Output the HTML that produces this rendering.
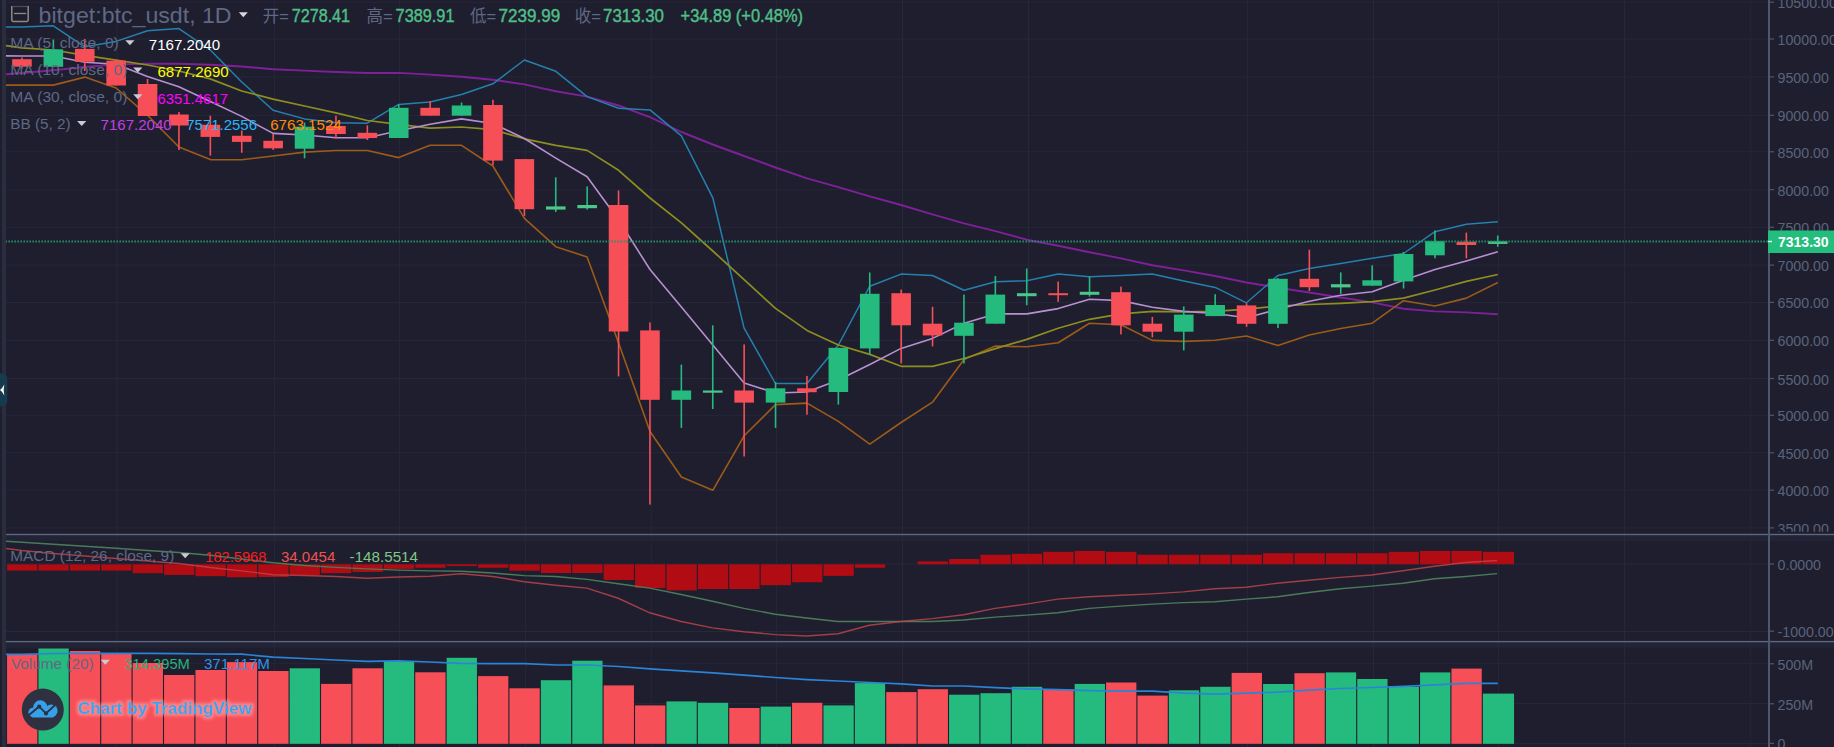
<!DOCTYPE html>
<html><head><meta charset="utf-8"><title>bitget:btc_usdt chart</title>
<style>
html,body{margin:0;padding:0;background:#1e1e2f;overflow:hidden;width:1834px;height:747px}
svg{display:block}
</style></head>
<body>
<svg width="1834" height="747" viewBox="0 0 1834 747"><rect x="0" y="0" width="1834" height="747" fill="#1e1e2f"/>
<rect x="2" y="0" width="4" height="747" fill="#292d3e"/>
<rect x="6" y="535.2" width="1828" height="5.8" fill="#222335"/>
<rect x="6" y="642.3" width="1828" height="5.4" fill="#222335"/>
<g fill="#26273a"><rect x="6" y="1.7" width="1762" height="1"/><rect x="6" y="38.5" width="1762" height="1"/><rect x="6" y="76.4" width="1762" height="1"/><rect x="6" y="114.8" width="1762" height="1"/><rect x="6" y="151.3" width="1762" height="1"/><rect x="6" y="189.2" width="1762" height="1"/><rect x="6" y="226.8" width="1762" height="1"/><rect x="6" y="264.6" width="1762" height="1"/><rect x="6" y="301.9" width="1762" height="1"/><rect x="6" y="339.8" width="1762" height="1"/><rect x="6" y="378.0" width="1762" height="1"/><rect x="6" y="414.8" width="1762" height="1"/><rect x="6" y="452.3" width="1762" height="1"/><rect x="6" y="489.7" width="1762" height="1"/><rect x="6" y="527.4" width="1762" height="1"/><rect x="6" y="563.5" width="1762" height="1"/><rect x="6" y="631.0" width="1762" height="1"/><rect x="6" y="662.7" width="1762" height="1"/><rect x="6" y="702.9" width="1762" height="1"/><rect x="6" y="742.9" width="1762" height="1"/><rect x="116.5" y="0" width="1" height="747"/><rect x="273.9" y="0" width="1" height="747"/><rect x="399.1" y="0" width="1" height="747"/><rect x="524.9" y="0" width="1" height="747"/><rect x="650.8" y="0" width="1" height="747"/><rect x="775.9" y="0" width="1" height="747"/><rect x="902.0" y="0" width="1" height="747"/><rect x="1028.0" y="0" width="1" height="747"/><rect x="1246.9" y="0" width="1" height="747"/><rect x="1373.0" y="0" width="1" height="747"/><rect x="1497.9" y="0" width="1" height="747"/><rect x="1624.0" y="0" width="1" height="747"/><rect x="1750.3" y="0" width="1" height="747"/></g>
<rect x="7.05" y="654.5" width="30.30" height="89.3" fill="#f74f57"/><rect x="38.45" y="648.5" width="30.30" height="95.3" fill="#25bb7e"/><rect x="69.85" y="651.0" width="30.30" height="92.8" fill="#f74f57"/><rect x="101.25" y="653.5" width="30.30" height="90.3" fill="#f74f57"/><rect x="132.65" y="663.0" width="30.30" height="80.8" fill="#f74f57"/><rect x="164.05" y="675.0" width="30.30" height="68.8" fill="#f74f57"/><rect x="195.45" y="670.0" width="30.30" height="73.8" fill="#f74f57"/><rect x="226.85" y="662.1" width="30.30" height="81.7" fill="#f74f57"/><rect x="258.25" y="671.0" width="30.30" height="72.8" fill="#f74f57"/><rect x="289.65" y="668.3" width="30.30" height="75.5" fill="#25bb7e"/><rect x="321.05" y="683.9" width="30.30" height="59.9" fill="#f74f57"/><rect x="352.45" y="668.3" width="30.30" height="75.5" fill="#f74f57"/><rect x="383.85" y="661.3" width="30.30" height="82.5" fill="#25bb7e"/><rect x="415.25" y="672.3" width="30.30" height="71.5" fill="#f74f57"/><rect x="446.65" y="657.8" width="30.30" height="86.0" fill="#25bb7e"/><rect x="478.05" y="676.1" width="30.30" height="67.7" fill="#f74f57"/><rect x="509.45" y="688.3" width="30.30" height="55.5" fill="#f74f57"/><rect x="540.85" y="680.2" width="30.30" height="63.6" fill="#25bb7e"/><rect x="572.25" y="660.7" width="30.30" height="83.1" fill="#25bb7e"/><rect x="603.65" y="685.4" width="30.30" height="58.4" fill="#f74f57"/><rect x="635.05" y="705.4" width="30.30" height="38.4" fill="#f74f57"/><rect x="666.45" y="701.4" width="30.30" height="42.4" fill="#25bb7e"/><rect x="697.85" y="702.8" width="30.30" height="41.0" fill="#25bb7e"/><rect x="729.25" y="708.0" width="30.30" height="35.8" fill="#f74f57"/><rect x="760.65" y="706.6" width="30.30" height="37.2" fill="#25bb7e"/><rect x="792.05" y="702.8" width="30.30" height="41.0" fill="#f74f57"/><rect x="823.45" y="705.4" width="30.30" height="38.4" fill="#25bb7e"/><rect x="854.85" y="683.1" width="30.30" height="60.7" fill="#25bb7e"/><rect x="886.25" y="692.1" width="30.30" height="51.7" fill="#f74f57"/><rect x="917.65" y="689.2" width="30.30" height="54.6" fill="#f74f57"/><rect x="949.05" y="694.7" width="30.30" height="49.1" fill="#25bb7e"/><rect x="980.45" y="693.2" width="30.30" height="50.6" fill="#25bb7e"/><rect x="1011.85" y="686.8" width="30.30" height="57.0" fill="#25bb7e"/><rect x="1043.25" y="689.2" width="30.30" height="54.6" fill="#f74f57"/><rect x="1074.65" y="683.9" width="30.30" height="59.9" fill="#25bb7e"/><rect x="1106.05" y="682.5" width="30.30" height="61.3" fill="#f74f57"/><rect x="1137.45" y="695.6" width="30.30" height="48.2" fill="#f74f57"/><rect x="1168.85" y="690.3" width="30.30" height="53.5" fill="#25bb7e"/><rect x="1200.25" y="686.8" width="30.30" height="57.0" fill="#25bb7e"/><rect x="1231.65" y="672.9" width="30.30" height="70.9" fill="#f74f57"/><rect x="1263.05" y="684.0" width="30.30" height="59.8" fill="#25bb7e"/><rect x="1294.45" y="673.2" width="30.30" height="70.6" fill="#f74f57"/><rect x="1325.85" y="672.4" width="30.30" height="71.4" fill="#25bb7e"/><rect x="1357.25" y="679.0" width="30.30" height="64.8" fill="#25bb7e"/><rect x="1388.65" y="686.9" width="30.30" height="56.9" fill="#25bb7e"/><rect x="1420.05" y="672.4" width="30.30" height="71.4" fill="#25bb7e"/><rect x="1451.45" y="668.6" width="30.30" height="75.2" fill="#f74f57"/><rect x="1482.85" y="693.6" width="31.20" height="50.2" fill="#25bb7e"/>
<polyline points="6.0,654.3 21.9,654.3 53.3,653.5 84.8,653.4 116.1,653.4 147.5,653.4 178.9,653.6 210.3,654.0 241.7,654.1 273.1,657.2 304.5,658.5 335.9,660.0 367.3,661.3 398.7,660.8 430.1,662.0 461.5,663.3 492.9,663.6 524.4,663.6 555.8,665.0 587.1,665.0 618.6,666.5 650.0,668.8 681.4,670.9 712.8,672.9 744.1,675.2 775.5,677.5 807.0,679.6 838.4,681.0 869.8,682.5 901.1,683.9 932.5,686.0 964.0,686.0 995.4,687.7 1026.8,688.9 1058.2,689.7 1089.5,690.6 1121.0,691.2 1152.3,691.2 1183.8,693.2 1215.2,694.1 1246.5,693.2 1278.0,692.1 1309.3,690.2 1340.8,688.5 1372.2,687.5 1403.5,686.3 1435.0,684.9 1466.3,683.4 1497.8,683.4" fill="none" stroke="#2a84d8" stroke-width="1.7" stroke-linejoin="round"/>
<g fill="#b10b13"><rect x="7.05" y="564.3" width="30.30" height="6.3"/><rect x="38.45" y="564.3" width="30.30" height="6.3"/><rect x="69.85" y="564.3" width="30.30" height="6.3"/><rect x="101.25" y="564.3" width="30.30" height="6.3"/><rect x="132.65" y="564.3" width="30.30" height="8.9"/><rect x="164.05" y="564.3" width="30.30" height="10.6"/><rect x="195.45" y="564.3" width="30.30" height="11.9"/><rect x="226.85" y="564.3" width="30.30" height="13.0"/><rect x="258.25" y="564.3" width="30.30" height="12.7"/><rect x="289.65" y="564.3" width="30.30" height="10.7"/><rect x="321.05" y="564.3" width="30.30" height="8.9"/><rect x="352.45" y="564.3" width="30.30" height="7.7"/><rect x="383.85" y="564.3" width="30.30" height="4.6"/><rect x="415.25" y="564.3" width="30.30" height="3.5"/><rect x="446.65" y="564.3" width="30.30" height="1.7"/><rect x="478.05" y="564.3" width="30.30" height="3.5"/><rect x="509.45" y="564.3" width="30.30" height="6.4"/><rect x="540.85" y="564.3" width="30.30" height="8.7"/><rect x="572.25" y="564.3" width="30.30" height="8.7"/><rect x="603.65" y="564.3" width="30.30" height="15.7"/><rect x="635.05" y="564.3" width="30.30" height="23.8"/><rect x="666.45" y="564.3" width="30.30" height="26.1"/><rect x="697.85" y="564.3" width="30.30" height="24.7"/><rect x="729.25" y="564.3" width="30.30" height="24.7"/><rect x="760.65" y="564.3" width="30.30" height="20.9"/><rect x="792.05" y="564.3" width="30.30" height="18.0"/><rect x="823.45" y="564.3" width="30.30" height="11.6"/><rect x="854.85" y="564.3" width="30.30" height="3.5"/><rect x="917.65" y="561.4" width="30.30" height="2.9"/><rect x="949.05" y="559.0" width="30.30" height="5.3"/><rect x="980.45" y="554.7" width="30.30" height="9.6"/><rect x="1011.85" y="553.8" width="30.30" height="10.5"/><rect x="1043.25" y="551.8" width="30.30" height="12.5"/><rect x="1074.65" y="550.9" width="30.30" height="13.4"/><rect x="1106.05" y="551.8" width="30.30" height="12.5"/><rect x="1137.45" y="554.7" width="30.30" height="9.6"/><rect x="1168.85" y="554.7" width="30.30" height="9.6"/><rect x="1200.25" y="554.7" width="30.30" height="9.6"/><rect x="1231.65" y="554.7" width="30.30" height="9.6"/><rect x="1263.05" y="553.2" width="30.30" height="11.1"/><rect x="1294.45" y="553.2" width="30.30" height="11.1"/><rect x="1325.85" y="553.2" width="30.30" height="11.1"/><rect x="1357.25" y="553.2" width="30.30" height="11.1"/><rect x="1388.65" y="551.8" width="30.30" height="12.5"/><rect x="1420.05" y="550.9" width="30.30" height="13.4"/><rect x="1451.45" y="550.9" width="30.30" height="13.4"/><rect x="1482.85" y="551.8" width="31.20" height="12.5"/></g>
<polyline points="6.0,541.2 22.0,542.2 53.4,544.3 84.8,546.3 116.2,548.3 147.5,550.5 178.9,552.5 210.3,555.3 241.7,559.0 273.1,562.8 304.5,565.5 335.9,567.4 367.2,568.9 398.6,570.1 430.0,570.9 461.4,571.3 492.8,573.0 524.2,575.6 555.5,576.5 586.9,579.4 618.3,583.7 649.7,588.1 681.1,594.5 712.5,601.2 743.9,608.4 775.2,614.2 806.6,618.0 838.0,621.5 869.4,621.5 900.8,621.5 932.2,621.5 963.6,620.0 995.0,617.1 1026.3,615.1 1057.7,612.8 1089.1,608.4 1120.5,606.1 1151.9,604.1 1183.3,602.6 1214.7,601.7 1246.0,599.1 1277.4,596.8 1308.8,592.5 1340.2,588.7 1371.6,586.1 1403.0,583.2 1434.4,578.8 1465.7,576.5 1497.1,573.6" fill="none" stroke="#4a7b59" stroke-width="1.45"/>
<polyline points="6.0,548.5 22.0,550.5 53.4,553.5 84.8,556.0 116.2,558.5 147.5,561.0 178.9,563.5 210.3,567.5 241.7,570.9 273.1,574.7 304.5,575.5 335.9,576.5 367.2,578.3 398.6,577.0 430.0,576.2 461.4,573.8 492.8,576.5 524.2,581.7 555.5,585.2 586.9,588.1 618.3,598.3 649.7,612.8 681.1,621.5 712.5,627.9 743.9,631.7 775.2,634.6 806.6,636.0 838.0,633.7 869.4,625.3 900.8,621.5 932.2,618.6 963.6,614.8 995.0,608.4 1026.3,604.1 1057.7,599.1 1089.1,596.8 1120.5,595.3 1151.9,593.9 1183.3,591.9 1214.7,588.7 1246.0,587.2 1277.4,583.2 1308.8,580.3 1340.2,577.4 1371.6,575.0 1403.0,570.7 1434.4,566.3 1465.7,562.5 1497.1,560.5" fill="none" stroke="#c0454a" stroke-width="1.45" stroke-opacity="0.82"/>
<polyline points="6.0,74.2 21.9,73.0 53.3,70.2 84.8,67.0 116.1,64.4 147.5,63.7 178.9,63.7 210.3,64.8 241.7,66.5 273.1,69.2 304.5,70.6 335.9,72.0 367.3,73.0 398.7,72.9 430.1,74.6 461.5,76.8 492.9,79.8 524.4,84.4 555.8,91.3 587.1,96.6 618.6,105.5 650.0,117.1 681.4,132.0 712.8,144.5 744.1,156.0 775.5,167.5 807.0,178.4 838.4,187.2 869.8,196.3 901.1,205.0 932.5,214.4 964.0,223.4 995.4,231.2 1026.8,239.7 1058.2,245.7 1089.5,252.2 1121.0,258.4 1152.3,265.3 1183.8,270.4 1215.2,276.0 1246.5,282.5 1278.0,287.8 1309.3,292.5 1340.8,297.5 1372.2,302.4 1403.5,308.8 1435.0,311.4 1466.3,312.4 1497.8,314.2" fill="none" stroke="#7f2099" stroke-width="1.9" stroke-linejoin="round"/>
<polyline points="6.0,85.1 21.9,85.1 53.3,85.1 84.8,77.1 116.1,88.0 147.5,115.3 178.9,147.0 210.3,159.6 241.7,159.7 273.1,156.0 304.5,152.1 335.9,150.5 367.3,150.5 398.7,157.6 430.1,145.3 461.5,145.3 492.9,166.0 524.4,218.3 555.8,246.7 587.1,256.9 618.6,343.0 650.0,431.5 681.4,477.0 712.8,490.3 744.1,435.8 775.5,404.6 807.0,403.1 838.4,421.4 869.8,444.2 901.1,422.5 932.5,402.2 964.0,359.6 995.4,346.0 1026.8,346.8 1058.2,342.8 1089.5,323.3 1121.0,324.7 1152.3,340.4 1183.8,341.4 1215.2,340.3 1246.5,336.0 1278.0,345.6 1309.3,335.0 1340.8,328.5 1372.2,323.2 1403.5,300.7 1435.0,306.0 1466.3,298.1 1497.8,282.5" fill="none" stroke="#9e5b18" stroke-width="1.6" stroke-linejoin="round"/>
<polyline points="6.0,27.1 21.9,27.1 53.3,25.8 84.8,46.8 116.1,41.4 147.5,30.7 178.9,28.6 210.3,50.0 241.7,82.0 273.1,110.2 304.5,118.9 335.9,122.7 367.3,123.2 398.7,104.4 430.1,102.1 461.5,94.5 492.9,83.8 524.4,60.0 555.8,71.3 587.1,96.6 618.6,108.2 650.0,109.9 681.4,135.9 712.8,197.8 744.1,328.1 775.5,383.5 807.0,383.5 838.4,345.0 869.8,286.2 901.1,274.1 932.5,275.5 964.0,290.2 995.4,281.7 1026.8,280.7 1058.2,274.1 1089.5,276.7 1121.0,275.5 1152.3,274.1 1183.8,281.0 1215.2,287.4 1246.5,302.8 1278.0,275.4 1309.3,268.5 1340.8,263.6 1372.2,258.3 1403.5,253.5 1435.0,231.7 1466.3,224.2 1497.8,221.8" fill="none" stroke="#2481ae" stroke-width="1.5" stroke-linejoin="round"/>
<polyline points="6.0,45.7 21.9,47.8 53.3,50.0 84.8,55.3 116.1,60.2 147.5,65.0 178.9,71.0 210.3,78.9 241.7,91.0 273.1,99.1 304.5,106.0 335.9,112.8 367.3,120.5 398.7,124.3 430.1,128.1 461.5,127.0 492.9,129.6 524.4,138.8 555.8,145.3 587.1,150.4 618.6,170.3 650.0,198.0 681.4,222.8 712.8,251.0 744.1,279.7 775.5,308.4 807.0,330.4 838.4,345.0 869.8,354.4 901.1,366.3 932.5,366.3 964.0,358.5 995.4,348.6 1026.8,339.4 1058.2,328.3 1089.5,319.3 1121.0,313.9 1152.3,311.3 1183.8,311.8 1215.2,311.4 1246.5,309.2 1278.0,306.0 1309.3,304.5 1340.8,303.4 1372.2,301.7 1403.5,298.1 1435.0,290.0 1466.3,281.4 1497.8,274.5" fill="none" stroke="#8e8e20" stroke-width="1.7" stroke-linejoin="round"/>
<polyline points="6.0,55.9 21.9,56.0 53.3,56.0 84.8,62.2 116.1,64.2 147.5,76.4 178.9,86.8 210.3,101.4 241.7,116.4 273.1,133.4 304.5,135.0 335.9,137.7 367.3,137.7 398.7,130.8 430.1,124.3 461.5,118.9 492.9,123.5 524.4,138.5 555.8,158.1 587.1,176.7 618.6,220.0 650.0,269.5 681.4,307.0 712.8,345.0 744.1,382.9 775.5,393.0 807.0,392.0 838.4,380.0 869.8,364.5 901.1,348.4 932.5,338.4 964.0,323.3 995.4,313.9 1026.8,313.9 1058.2,308.6 1089.5,299.2 1121.0,300.6 1152.3,307.2 1183.8,311.4 1215.2,313.5 1246.5,317.8 1278.0,309.2 1309.3,301.3 1340.8,295.3 1372.2,291.7 1403.5,280.3 1435.0,269.6 1466.3,261.0 1497.8,251.8" fill="none" stroke="#b890d0" stroke-width="1.6" stroke-linejoin="round"/>
<rect x="21.15" y="57.5" width="1.6" height="11.0" fill="#f74f57"/><rect x="12.15" y="59.2" width="19.6" height="7.5" fill="#f74f57"/><rect x="52.55" y="39.5" width="1.6" height="27.3" fill="#25bb7e"/><rect x="43.55" y="49.3" width="19.6" height="17.5" fill="#25bb7e"/><rect x="83.95" y="39.0" width="1.6" height="32.0" fill="#f74f57"/><rect x="74.95" y="48.9" width="19.6" height="12.9" fill="#f74f57"/><rect x="115.35" y="59.5" width="1.6" height="26.0" fill="#f74f57"/><rect x="106.35" y="60.7" width="19.6" height="24.8" fill="#f74f57"/><rect x="146.75" y="79.0" width="1.6" height="37.0" fill="#f74f57"/><rect x="137.75" y="84.0" width="19.6" height="32.0" fill="#f74f57"/><rect x="178.15" y="112.0" width="1.6" height="38.0" fill="#f74f57"/><rect x="169.15" y="114.5" width="19.6" height="11.0" fill="#f74f57"/><rect x="209.55" y="115.7" width="1.6" height="39.9" fill="#f74f57"/><rect x="200.55" y="124.8" width="19.6" height="12.1" fill="#f74f57"/><rect x="240.95" y="130.5" width="1.6" height="22.3" fill="#f74f57"/><rect x="231.95" y="135.8" width="19.6" height="6.1" fill="#f74f57"/><rect x="272.35" y="134.0" width="1.6" height="15.9" fill="#f74f57"/><rect x="263.35" y="140.8" width="19.6" height="7.5" fill="#f74f57"/><rect x="303.75" y="122.6" width="1.6" height="35.7" fill="#25bb7e"/><rect x="294.75" y="126.7" width="19.6" height="22.0" fill="#25bb7e"/><rect x="335.15" y="115.7" width="1.6" height="22.8" fill="#f74f57"/><rect x="326.15" y="126.0" width="19.6" height="8.0" fill="#f74f57"/><rect x="366.55" y="125.3" width="1.6" height="14.7" fill="#f74f57"/><rect x="357.55" y="132.8" width="19.6" height="5.2" fill="#f74f57"/><rect x="397.95" y="104.4" width="1.6" height="33.6" fill="#25bb7e"/><rect x="388.95" y="107.8" width="19.6" height="30.2" fill="#25bb7e"/><rect x="429.35" y="101.0" width="1.6" height="14.7" fill="#f74f57"/><rect x="420.35" y="107.8" width="19.6" height="7.9" fill="#f74f57"/><rect x="460.75" y="102.5" width="1.6" height="13.2" fill="#25bb7e"/><rect x="451.75" y="105.5" width="19.6" height="10.2" fill="#25bb7e"/><rect x="492.15" y="99.8" width="1.6" height="65.2" fill="#f74f57"/><rect x="483.15" y="105.0" width="19.6" height="55.6" fill="#f74f57"/><rect x="523.55" y="159.0" width="1.6" height="57.0" fill="#f74f57"/><rect x="514.55" y="159.1" width="19.6" height="50.1" fill="#f74f57"/><rect x="554.95" y="177.3" width="1.6" height="34.7" fill="#25bb7e"/><rect x="545.95" y="206.4" width="19.6" height="3.2" fill="#4cc78a"/><rect x="586.35" y="186.4" width="1.6" height="23.2" fill="#25bb7e"/><rect x="577.35" y="205.0" width="19.6" height="3.2" fill="#4cc78a"/><rect x="617.75" y="190.5" width="1.6" height="185.9" fill="#f74f57"/><rect x="608.75" y="205.0" width="19.6" height="126.5" fill="#f74f57"/><rect x="649.15" y="322.5" width="1.6" height="182.1" fill="#f74f57"/><rect x="640.15" y="330.4" width="19.6" height="69.4" fill="#f74f57"/><rect x="680.55" y="364.6" width="1.6" height="63.3" fill="#25bb7e"/><rect x="671.55" y="390.5" width="19.6" height="9.3" fill="#25bb7e"/><rect x="711.95" y="325.3" width="1.6" height="83.7" fill="#25bb7e"/><rect x="702.95" y="390.5" width="19.6" height="2.2" fill="#4cc78a"/><rect x="743.35" y="344.4" width="1.6" height="112.1" fill="#f74f57"/><rect x="734.35" y="390.5" width="19.6" height="12.1" fill="#f74f57"/><rect x="774.75" y="382.0" width="1.6" height="45.9" fill="#25bb7e"/><rect x="765.75" y="388.3" width="19.6" height="14.3" fill="#25bb7e"/><rect x="806.15" y="375.9" width="1.6" height="38.8" fill="#f74f57"/><rect x="797.15" y="388.3" width="19.6" height="3.9" fill="#f74f57"/><rect x="837.55" y="347.8" width="1.6" height="56.8" fill="#25bb7e"/><rect x="828.55" y="347.8" width="19.6" height="44.2" fill="#25bb7e"/><rect x="868.95" y="272.5" width="1.6" height="81.9" fill="#25bb7e"/><rect x="859.95" y="293.8" width="19.6" height="54.6" fill="#25bb7e"/><rect x="900.35" y="289.6" width="1.6" height="73.9" fill="#f74f57"/><rect x="891.35" y="293.2" width="19.6" height="32.1" fill="#f74f57"/><rect x="931.75" y="306.8" width="1.6" height="39.6" fill="#f74f57"/><rect x="922.75" y="323.7" width="19.6" height="11.7" fill="#f74f57"/><rect x="963.15" y="294.6" width="1.6" height="68.9" fill="#25bb7e"/><rect x="954.15" y="322.7" width="19.6" height="13.1" fill="#25bb7e"/><rect x="994.55" y="276.1" width="1.6" height="47.6" fill="#25bb7e"/><rect x="985.55" y="294.6" width="19.6" height="29.1" fill="#25bb7e"/><rect x="1025.95" y="268.5" width="1.6" height="36.7" fill="#25bb7e"/><rect x="1016.95" y="293.2" width="19.6" height="3.0" fill="#4cc78a"/><rect x="1057.35" y="281.5" width="1.6" height="20.3" fill="#f74f57"/><rect x="1048.35" y="293.2" width="19.6" height="2.0" fill="#f74f57"/><rect x="1088.75" y="276.5" width="1.6" height="20.1" fill="#25bb7e"/><rect x="1079.75" y="291.8" width="19.6" height="3.0" fill="#4cc78a"/><rect x="1120.15" y="286.6" width="1.6" height="47.8" fill="#f74f57"/><rect x="1111.15" y="292.2" width="19.6" height="33.1" fill="#f74f57"/><rect x="1151.55" y="316.9" width="1.6" height="20.5" fill="#f74f57"/><rect x="1142.55" y="323.7" width="19.6" height="8.0" fill="#f74f57"/><rect x="1182.95" y="306.4" width="1.6" height="44.0" fill="#25bb7e"/><rect x="1173.95" y="314.6" width="19.6" height="17.1" fill="#25bb7e"/><rect x="1214.35" y="294.2" width="1.6" height="21.9" fill="#25bb7e"/><rect x="1205.35" y="305.0" width="19.6" height="11.1" fill="#25bb7e"/><rect x="1245.75" y="303.2" width="1.6" height="23.6" fill="#f74f57"/><rect x="1236.75" y="305.4" width="19.6" height="18.4" fill="#f74f57"/><rect x="1277.15" y="278.0" width="1.6" height="50.1" fill="#25bb7e"/><rect x="1268.15" y="278.8" width="19.6" height="45.0" fill="#25bb7e"/><rect x="1308.55" y="249.7" width="1.6" height="41.3" fill="#f74f57"/><rect x="1299.55" y="278.8" width="19.6" height="8.4" fill="#f74f57"/><rect x="1339.95" y="272.4" width="1.6" height="21.4" fill="#25bb7e"/><rect x="1330.95" y="284.2" width="19.6" height="3.2" fill="#4cc78a"/><rect x="1371.35" y="265.3" width="1.6" height="20.4" fill="#25bb7e"/><rect x="1362.35" y="280.3" width="19.6" height="5.4" fill="#25bb7e"/><rect x="1402.75" y="252.0" width="1.6" height="36.5" fill="#25bb7e"/><rect x="1393.75" y="254.0" width="19.6" height="27.4" fill="#25bb7e"/><rect x="1434.15" y="230.4" width="1.6" height="27.9" fill="#25bb7e"/><rect x="1425.15" y="241.1" width="19.6" height="14.2" fill="#25bb7e"/><rect x="1465.55" y="232.6" width="1.6" height="25.7" fill="#f74f57"/><rect x="1456.55" y="241.8" width="19.6" height="3.2" fill="#f74f57"/><rect x="1496.95" y="235.5" width="1.6" height="11.3" fill="#25bb7e"/><rect x="1487.95" y="241.3" width="19.6" height="2.6" fill="#4cc78a"/>
<line x1="6" y1="241.5" x2="1768" y2="241.5" stroke="#22976b" stroke-width="1.8" stroke-dasharray="1.6 1.4" stroke-dashoffset="0.6" stroke-opacity="0.9"/>
<rect x="1767" y="531.7" width="67" height="2.1" fill="#1e1e2f"/>
<rect x="6" y="533.8" width="1828" height="1.4" fill="#5f6882"/>
<rect x="6" y="640.9" width="1828" height="1.4" fill="#5f6882"/>
<rect x="1768" y="0" width="2" height="747" fill="#4f576c"/>
<defs><clipPath id="pc"><rect x="1770" y="0" width="64" height="531.7"/></clipPath></defs><g clip-path="url(#pc)"><rect x="1770" y="1.6" width="4" height="1.2" fill="#4f576c"/><text x="1777.6" y="8.2" font-family="'Liberation Sans', Arial, sans-serif" font-size="14.2" fill="#5b6379">10500.00</text><rect x="1770" y="38.4" width="4" height="1.2" fill="#4f576c"/><text x="1777.6" y="45.0" font-family="'Liberation Sans', Arial, sans-serif" font-size="14.2" fill="#5b6379">10000.00</text><rect x="1770" y="76.3" width="4" height="1.2" fill="#4f576c"/><text x="1777.6" y="82.9" font-family="'Liberation Sans', Arial, sans-serif" font-size="14.2" fill="#5b6379">9500.00</text><rect x="1770" y="114.7" width="4" height="1.2" fill="#4f576c"/><text x="1777.6" y="121.3" font-family="'Liberation Sans', Arial, sans-serif" font-size="14.2" fill="#5b6379">9000.00</text><rect x="1770" y="151.2" width="4" height="1.2" fill="#4f576c"/><text x="1777.6" y="157.8" font-family="'Liberation Sans', Arial, sans-serif" font-size="14.2" fill="#5b6379">8500.00</text><rect x="1770" y="189.1" width="4" height="1.2" fill="#4f576c"/><text x="1777.6" y="195.7" font-family="'Liberation Sans', Arial, sans-serif" font-size="14.2" fill="#5b6379">8000.00</text><rect x="1770" y="226.7" width="4" height="1.2" fill="#4f576c"/><text x="1777.6" y="233.3" font-family="'Liberation Sans', Arial, sans-serif" font-size="14.2" fill="#5b6379">7500.00</text><rect x="1770" y="264.5" width="4" height="1.2" fill="#4f576c"/><text x="1777.6" y="271.1" font-family="'Liberation Sans', Arial, sans-serif" font-size="14.2" fill="#5b6379">7000.00</text><rect x="1770" y="301.8" width="4" height="1.2" fill="#4f576c"/><text x="1777.6" y="308.4" font-family="'Liberation Sans', Arial, sans-serif" font-size="14.2" fill="#5b6379">6500.00</text><rect x="1770" y="339.7" width="4" height="1.2" fill="#4f576c"/><text x="1777.6" y="346.3" font-family="'Liberation Sans', Arial, sans-serif" font-size="14.2" fill="#5b6379">6000.00</text><rect x="1770" y="377.9" width="4" height="1.2" fill="#4f576c"/><text x="1777.6" y="384.5" font-family="'Liberation Sans', Arial, sans-serif" font-size="14.2" fill="#5b6379">5500.00</text><rect x="1770" y="414.7" width="4" height="1.2" fill="#4f576c"/><text x="1777.6" y="421.3" font-family="'Liberation Sans', Arial, sans-serif" font-size="14.2" fill="#5b6379">5000.00</text><rect x="1770" y="452.2" width="4" height="1.2" fill="#4f576c"/><text x="1777.6" y="458.8" font-family="'Liberation Sans', Arial, sans-serif" font-size="14.2" fill="#5b6379">4500.00</text><rect x="1770" y="489.6" width="4" height="1.2" fill="#4f576c"/><text x="1777.6" y="496.2" font-family="'Liberation Sans', Arial, sans-serif" font-size="14.2" fill="#5b6379">4000.00</text><rect x="1770" y="527.3" width="4" height="1.2" fill="#4f576c"/><text x="1777.6" y="533.9" font-family="'Liberation Sans', Arial, sans-serif" font-size="14.2" fill="#5b6379">3500.00</text></g><rect x="1770" y="563.4" width="4" height="1.2" fill="#4f576c"/><text x="1777.6" y="570.0" font-family="'Liberation Sans', Arial, sans-serif" font-size="14.2" fill="#5b6379">0.0000</text><rect x="1770" y="630.6" width="4" height="1.2" fill="#4f576c"/><text x="1777.6" y="637.2" font-family="'Liberation Sans', Arial, sans-serif" font-size="14.2" fill="#5b6379">-1000.00</text><rect x="1770" y="663.2" width="4" height="1.2" fill="#4f576c"/><text x="1777.6" y="669.8" font-family="'Liberation Sans', Arial, sans-serif" font-size="14.2" fill="#5b6379">500M</text><rect x="1770" y="703.2" width="4" height="1.2" fill="#4f576c"/><text x="1777.6" y="709.8" font-family="'Liberation Sans', Arial, sans-serif" font-size="14.2" fill="#5b6379">250M</text><rect x="1770" y="742.8" width="4" height="1.2" fill="#4f576c"/><text x="1777.6" y="749.4" font-family="'Liberation Sans', Arial, sans-serif" font-size="14.2" fill="#5b6379">0</text>
<rect x="1768" y="230.5" width="66" height="22.5" fill="#23bd7d"/>
<rect x="1768" y="240.8" width="4" height="1.4" fill="#e8fff4"/>
<text x="1778" y="246.8" font-family="'Liberation Sans', Arial, sans-serif" font-size="14" font-weight="bold" fill="#ffffff">7313.30</text>
<text x="38.6" y="22.9" font-family="'Liberation Sans', Arial, sans-serif" font-size="21.5" fill="#5f6884" textLength="193" lengthAdjust="spacingAndGlyphs">bitget:btc_usdt, 1D</text><polygon points="238.8,12.3 247.8,12.3 243.3,17.3" fill="#d5d7dc"/><text x="262.8" y="22" font-family="'Liberation Sans', 'Noto Sans CJK SC', sans-serif" font-size="16.5" fill="#5f6884">开=</text><text x="291.7" y="22" font-family="'Liberation Sans', Arial, sans-serif" font-size="17.5" fill="#4fbf86" stroke="#4fbf86" stroke-width="0.45" textLength="58.4" lengthAdjust="spacingAndGlyphs">7278.41</text><text x="366.5" y="22" font-family="'Liberation Sans', 'Noto Sans CJK SC', sans-serif" font-size="16.5" fill="#5f6884">高=</text><text x="395.6" y="22" font-family="'Liberation Sans', Arial, sans-serif" font-size="17.5" fill="#4fbf86" stroke="#4fbf86" stroke-width="0.45" textLength="58.9" lengthAdjust="spacingAndGlyphs">7389.91</text><text x="470" y="22" font-family="'Liberation Sans', 'Noto Sans CJK SC', sans-serif" font-size="16.5" fill="#5f6884">低=</text><text x="498.6" y="22" font-family="'Liberation Sans', Arial, sans-serif" font-size="17.5" fill="#4fbf86" stroke="#4fbf86" stroke-width="0.45" textLength="61.5" lengthAdjust="spacingAndGlyphs">7239.99</text><text x="574.8" y="22" font-family="'Liberation Sans', 'Noto Sans CJK SC', sans-serif" font-size="16.5" fill="#5f6884">收=</text><text x="603.1" y="22" font-family="'Liberation Sans', Arial, sans-serif" font-size="17.5" fill="#4fbf86" stroke="#4fbf86" stroke-width="0.45" textLength="60.9" lengthAdjust="spacingAndGlyphs">7313.30</text><text x="680.6" y="22" font-family="'Liberation Sans', Arial, sans-serif" font-size="17.5" fill="#4fbf86" stroke="#4fbf86" stroke-width="0.45" textLength="122.4" lengthAdjust="spacingAndGlyphs">+34.89 (+0.48%)</text><text x="10.3" y="48.3" font-family="'Liberation Sans', Arial, sans-serif" font-size="15" fill="#5f6884" textLength="108.5" lengthAdjust="spacingAndGlyphs">MA (5, close, 0)</text><polygon points="125.3,40.3 134.5,40.3 129.9,45.3" fill="#c9cbd1"/><text x="148.8" y="49.6" font-family="'Liberation Sans', Arial, sans-serif" font-size="15" fill="#ffffff" textLength="71.3" lengthAdjust="spacingAndGlyphs">7167.2040</text><text x="10.3" y="75.4" font-family="'Liberation Sans', Arial, sans-serif" font-size="15" fill="#5f6884" textLength="117.1" lengthAdjust="spacingAndGlyphs">MA (10, close, 0)</text><polygon points="133.2,67.4 142.39999999999998,67.4 137.79999999999998,72.4" fill="#c9cbd1"/><text x="157.4" y="76.7" font-family="'Liberation Sans', Arial, sans-serif" font-size="15" fill="#ffff00" textLength="71.3" lengthAdjust="spacingAndGlyphs">6877.2690</text><text x="10.3" y="102.2" font-family="'Liberation Sans', Arial, sans-serif" font-size="15" fill="#5f6884" textLength="117.1" lengthAdjust="spacingAndGlyphs">MA (30, close, 0)</text><polygon points="133.2,94.2 142.39999999999998,94.2 137.79999999999998,99.2" fill="#c9cbd1"/><text x="157.4" y="103.5" font-family="'Liberation Sans', Arial, sans-serif" font-size="15" fill="#ff00ff" textLength="70.6" lengthAdjust="spacingAndGlyphs">6351.4617</text><text x="10.3" y="129.0" font-family="'Liberation Sans', Arial, sans-serif" font-size="15" fill="#5f6884" textLength="60.4" lengthAdjust="spacingAndGlyphs">BB (5, 2)</text><polygon points="77.1,121.00000000000001 86.3,121.00000000000001 81.69999999999999,126.00000000000001" fill="#c9cbd1"/><text x="100.6" y="130.3" font-family="'Liberation Sans', Arial, sans-serif" font-size="15" fill="#c63de4" textLength="71.1" lengthAdjust="spacingAndGlyphs">7167.2040</text><text x="186.3" y="130.3" font-family="'Liberation Sans', Arial, sans-serif" font-size="15" fill="#29b6f6" textLength="70.7" lengthAdjust="spacingAndGlyphs">7571.2556</text><text x="270.2" y="130.3" font-family="'Liberation Sans', Arial, sans-serif" font-size="15" fill="#ff8c00" textLength="71.6" lengthAdjust="spacingAndGlyphs">6763.1524</text><text x="10.3" y="561.3" font-family="'Liberation Sans', Arial, sans-serif" font-size="15" fill="#5f6884" textLength="164" lengthAdjust="spacingAndGlyphs">MACD (12, 26, close, 9)</text><polygon points="180.6,553.3 189.79999999999998,553.3 185.2,558.3" fill="#c9cbd1"/><text x="205.3" y="562.2" font-family="'Liberation Sans', Arial, sans-serif" font-size="15" fill="#ff1a1a" textLength="61.1" lengthAdjust="spacingAndGlyphs">182.5968</text><text x="280.9" y="562.2" font-family="'Liberation Sans', Arial, sans-serif" font-size="15" fill="#ef5350" textLength="54.5" lengthAdjust="spacingAndGlyphs">34.0454</text><text x="349.6" y="562.2" font-family="'Liberation Sans', Arial, sans-serif" font-size="15" fill="#81c784" textLength="68.4" lengthAdjust="spacingAndGlyphs">-148.5514</text><text x="11" y="669" font-family="'Liberation Sans', Arial, sans-serif" font-size="15" fill="#5f6884" textLength="82.5" lengthAdjust="spacingAndGlyphs">Volume (20)</text><polygon points="100.8,659.8 109.8,659.8 105.3,664.8" fill="#c9cbd1"/><text x="124.4" y="669" font-family="'Liberation Sans', Arial, sans-serif" font-size="15" fill="#26b27a" textLength="65.5" lengthAdjust="spacingAndGlyphs">314.395M</text><text x="203.9" y="669" font-family="'Liberation Sans', Arial, sans-serif" font-size="15" fill="#2e93e8" textLength="66" lengthAdjust="spacingAndGlyphs">371.117M</text>
<line x1="12.5" y1="6.5" x2="27.9" y2="6.5" stroke="#4a4a58" stroke-width="1.3"/>
<path d="M11.8,6 V20 Q11.8,21.4 13.2,21.4 H26.8 Q28.2,21.4 28.2,20 V6" fill="none" stroke="#8c8b88" stroke-width="1.5"/>
<line x1="14" y1="13.5" x2="26.2" y2="13.5" stroke="#8c8b88" stroke-width="1.3"/>
<path d="M0,373.3 H2 A5.5,5.5 0 0 1 7.3,378.8 V401 A5.5,5.5 0 0 1 2,406.6 H0 Z" fill="#163a4e"/>
<path d="M4.3,384.6 Q2.2,388.6 0,390 Q2.2,391.4 4.3,395.4 Q3.1,390 4.3,384.6 Z" fill="#ffffff"/>
<defs><filter id="glow" x="-10%" y="-60%" width="120%" height="220%"><feMorphology operator="dilate" radius="1.6" in="SourceAlpha" result="d"/><feGaussianBlur in="d" stdDeviation="1.4" result="b"/><feFlood flood-color="#ffffff" flood-opacity="0.3"/><feComposite in2="b" operator="in" result="g"/><feMerge><feMergeNode in="g"/><feMergeNode in="SourceGraphic"/></feMerge></filter></defs>
<circle cx="42.8" cy="709.6" r="21" fill="#2f3140"/>
<g fill="#35a1ec"><circle cx="33" cy="712.3" r="4.6"/><circle cx="40.3" cy="707.4" r="7.1"/><circle cx="51.3" cy="710.8" r="6.3"/><rect x="31" y="711" width="23.5" height="6.4" rx="2"/></g>
<polyline points="27.5,716.2 39.2,706.6 46,713.4 57,703.2" fill="none" stroke="#2f3140" stroke-width="1.9" stroke-linejoin="round"/>
<circle cx="39.2" cy="706.6" r="2.1" fill="#2f3140"/><circle cx="46" cy="713.4" r="2.1" fill="#2f3140"/>
<text x="78" y="714.2" font-family="'Liberation Sans', Arial, sans-serif" font-size="17" font-weight="bold" fill="#37a2ee" filter="url(#glow)" textLength="174" lengthAdjust="spacingAndGlyphs">Chart by TradingView</text></svg>
</body></html>
